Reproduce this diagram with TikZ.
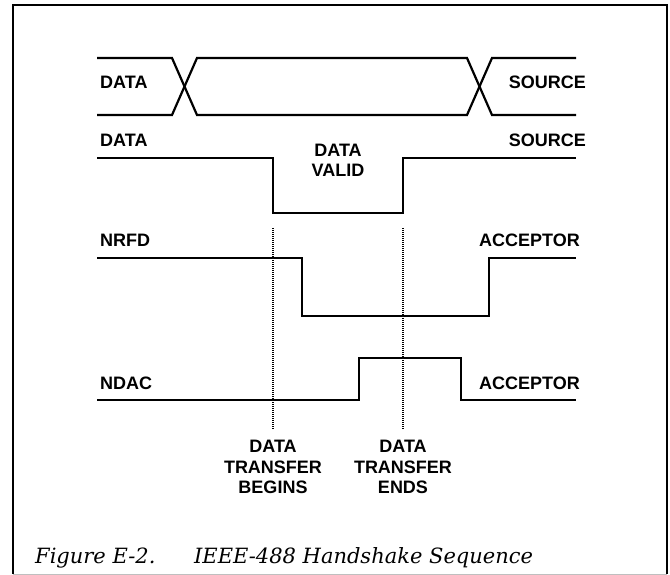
\documentclass[tikz,border=0pt]{standalone}
\usepackage{fontspec}
\setsansfont{Liberation Sans}
\newfontfamily\capserif{DejaVu Serif}
\usetikzlibrary{positioning}

\begin{document}
\begin{tikzpicture}[x=1pt, y=-1pt,
    wave/.style={line width=2.2pt, line join=miter},
    marker/.style={line width=1.4pt, dash pattern=on 1pt off 1pt},
    siglabel/.style={font=\sffamily\bfseries\fontsize{18}{20.5}\selectfont, inner sep=0pt, align=center},
    caption/.style={font=\capserif\itshape\fontsize{21}{24}\selectfont, inner sep=0pt}]
    \useasboundingbox (0,0) rectangle (670,575);
    % outer frame
    \draw[line width=2.6pt] (13,574) -- (13,5) -- (667,5) -- (667,574);
    \draw[line width=0.6pt, black!25] (13,574) -- (667,574);
    % data bus
    \draw[wave] (97,58) -- (172,58) -- (197,115) -- (467,115) -- (492,58) -- (576,58);
    \draw[wave] (97,115) -- (172,115) -- (197,58) -- (467,58) -- (492,115) -- (576,115);
    % DAV line
    \draw[wave] (97,158) -- (273,158) -- (273,213) -- (403,213) -- (403,158) -- (576,158);
    % NRFD line
    \draw[wave] (97,258) -- (302,258) -- (302,316) -- (489,316) -- (489,258) -- (576,258);
    % NDAC line
    \draw[wave] (97,400) -- (359,400) -- (359,358) -- (461,358) -- (461,400) -- (576,400);
    % transfer markers
    \coordinate (begtop) at (273,228);
    \coordinate (begbot) at (273,430);
    \coordinate (endtop) at (403,228);
    \coordinate (endbot) at (403,430);
    \draw[marker] (begtop) -- (begbot);
    \draw[marker] (endtop) -- (endbot);
    % signal labels
    \node[siglabel, anchor=base west] (busl) at (100,89) {DATA};
    \node[siglabel, anchor=base east] (busr) at (586,89) {SOURCE};
    \node[siglabel, anchor=base west] (davl) at (100,146.5) {DATA};
    \node[siglabel, anchor=base east] (davr) at (586,146.5) {SOURCE};
    \node[siglabel, anchor=base] (valid) at (338,176.5) {DATA\\VALID};
    \node[siglabel, anchor=base west] (nrfdl) at (100,246.5) {NRFD};
    \node[siglabel, anchor=base east] (nrfdr) at (580,246.5) {ACCEPTOR};
    \node[siglabel, anchor=base west] (ndacl) at (100,389.5) {NDAC};
    \node[siglabel, anchor=base east] (ndacr) at (580,389.5) {ACCEPTOR};
    \node[siglabel, below=10pt of begbot] (begins) {DATA\\TRANSFER\\BEGINS};
    \node[siglabel, below=10pt of endbot] (ends) {DATA\\TRANSFER\\ENDS};
    % caption
    \node[caption, anchor=base west] (fignum) at (35,563) {Figure E-2.};
    \node[caption, anchor=base west] (figtitle) at (194,563) {IEEE-488 Handshake Sequence};
\end{tikzpicture}
\end{document}
